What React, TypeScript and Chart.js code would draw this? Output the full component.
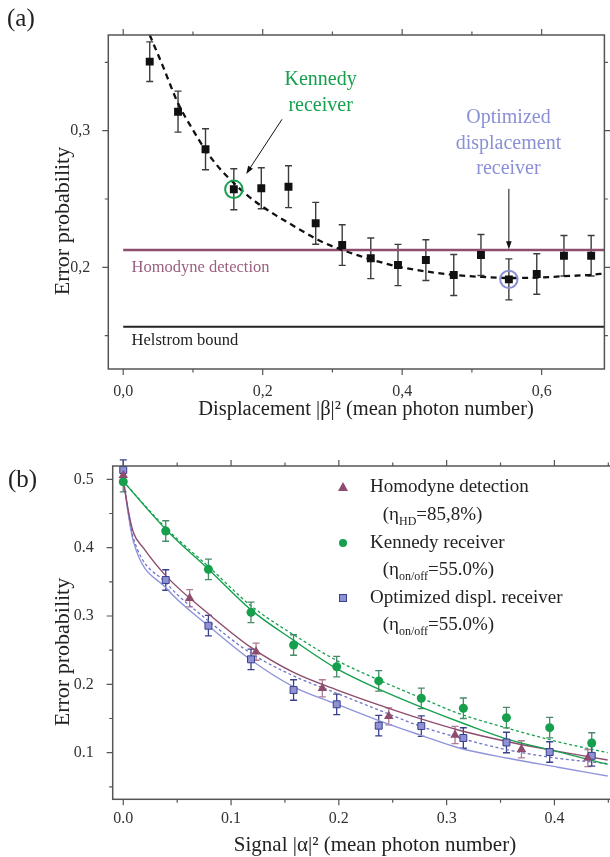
import React, { useEffect, useRef } from "react";
import { Chart, registerables } from "chart.js";

Chart.register(...registerables);

const SERIF = "'Liberation Serif', 'DejaVu Serif', serif";

// ---------------- Panel (a) data ----------------
const A_BETA2 = [0.038, 0.0786, 0.118, 0.1586, 0.198, 0.237, 0.276, 0.314, 0.355, 0.394, 0.434, 0.474, 0.513, 0.553, 0.593, 0.632, 0.671];
const A_PERR = [0.3505, 0.3139, 0.2864, 0.2571, 0.2579, 0.259, 0.2322, 0.2163, 0.2066, 0.2017, 0.2053, 0.1944, 0.209, 0.1912, 0.1951, 0.2085, 0.2085];
const A_ERR = [0.0145, 0.015, 0.015, 0.015, 0.015, 0.0153, 0.0153, 0.0149, 0.0149, 0.0151, 0.0149, 0.015, 0.015, 0.015, 0.0148, 0.0148, 0.0148];
const A_FIT_BETA2 = [0.038, 0.057, 0.0786, 0.1, 0.119, 0.138, 0.157, 0.176, 0.198, 0.219, 0.238, 0.252, 0.276, 0.29, 0.314, 0.338, 0.355, 0.394, 0.434, 0.474, 0.513, 0.553, 0.593, 0.632, 0.671, 0.69];
const A_FIT_PERR = [0.37, 0.347, 0.32, 0.3005, 0.285, 0.2725, 0.2625, 0.2535, 0.245, 0.238, 0.2322, 0.228, 0.221, 0.2175, 0.2127, 0.2085, 0.2058, 0.2005, 0.197, 0.1945, 0.193, 0.1922, 0.1924, 0.1935, 0.1945, 0.1955];
const A_HOMODYNE_LEVEL = 0.2127;
const A_HELSTROM_LEVEL = 0.1565;
const A_LEVEL_RANGE = [0, 0.69];
const A_X_MAJOR = [0, 0.2, 0.4, 0.6];
const A_X_MINOR = [0.1, 0.3, 0.5];
const A_Y_MAJOR = [0.2, 0.3];
const A_Y_MINOR = [0.15, 0.25, 0.35];

// ---------------- Panel (b) data ----------------
const HD_ALPHA2 = [0, 0.0616, 0.1232, 0.1847, 0.2463, 0.3078, 0.3694, 0.431];
const HD_PERR = [0.506, 0.326, 0.2478, 0.1942, 0.1532, 0.1259, 0.105, 0.0922];
const HD_ERR = [0.0125, 0.0125, 0.0125, 0.0125, 0.0125, 0.0125, 0.0125, 0.0125];

const KEN_ALPHA2 = [0, 0.0394, 0.079, 0.1185, 0.158, 0.198, 0.237, 0.2765, 0.3155, 0.3555, 0.3956, 0.4346];
const KEN_PERR = [0.4965, 0.4244, 0.3683, 0.3054, 0.2576, 0.2258, 0.205, 0.1796, 0.165, 0.1512, 0.1366, 0.1142];
const KEN_ERR = [0.015, 0.015, 0.015, 0.015, 0.015, 0.015, 0.015, 0.015, 0.015, 0.015, 0.015, 0.015];

const OPT_ALPHA2 = [0, 0.0394, 0.079, 0.1185, 0.158, 0.198, 0.237, 0.2765, 0.3155, 0.3555, 0.3956, 0.4346];
const OPT_PERR = [0.5136, 0.3527, 0.2858, 0.2366, 0.1917, 0.1708, 0.1395, 0.139, 0.1215, 0.1149, 0.101, 0.0954];
const OPT_ERR = [0.015, 0.015, 0.015, 0.015, 0.015, 0.015, 0.015, 0.015, 0.015, 0.015, 0.015, 0.015];

const KEN_FIT_X = [0, 0.04, 0.08, 0.1185, 0.1585, 0.198, 0.237, 0.277, 0.317, 0.357, 0.403, 0.4494];
const KEN_FIT_Y = [0.497, 0.426, 0.367, 0.309, 0.264, 0.223, 0.193, 0.1664, 0.142, 0.1196, 0.1015, 0.083];
const KEN_FIT2_X = [0, 0.04, 0.08, 0.1185, 0.1632, 0.198, 0.237, 0.277, 0.3108, 0.357, 0.4033, 0.4494];
const KEN_FIT2_Y = [0.497, 0.428, 0.371, 0.315, 0.2674, 0.235, 0.2064, 0.1796, 0.1576, 0.1357, 0.116, 0.1];
const HD_FIT_X = [0, 0.0046, 0.0092, 0.0185, 0.04, 0.08, 0.1185, 0.1585, 0.198, 0.237, 0.277, 0.3108, 0.357, 0.4033, 0.4494];
const HD_FIT_Y = [0.5, 0.455, 0.423, 0.4, 0.358, 0.302, 0.254, 0.217, 0.192, 0.17, 0.149, 0.1332, 0.116, 0.102, 0.0893];
const OPT_FIT_X = [0, 0.0046, 0.0092, 0.04, 0.08, 0.1185, 0.1585, 0.198, 0.237, 0.277, 0.3108, 0.357, 0.4033, 0.4494];
const OPT_FIT_Y = [0.5, 0.45, 0.41, 0.3405, 0.2844, 0.2356, 0.196, 0.171, 0.147, 0.125, 0.1073, 0.0918, 0.0787, 0.0659];
const OPT_FIT2_Y = [0.5, 0.452, 0.415, 0.348, 0.2917, 0.2454, 0.212, 0.187, 0.1625, 0.138, 0.122, 0.104, 0.0918, 0.084];

const B_X_MAJOR = [0, 0.1, 0.2, 0.3, 0.4];
const B_X_MINOR = [0.05, 0.15, 0.25, 0.35, 0.45];
const B_Y_MAJOR = [0.1, 0.2, 0.3, 0.4, 0.5];
const B_Y_MINOR = [0.05, 0.15, 0.25, 0.35, 0.45];

// ---------------- colours ----------------
const C_GREEN = "#16a04e";
const C_GREEN_ERR = "#4a8a6a";
const C_MAUVE = "#8e4c6e";
const C_MAUVE_ERR = "#b07a93";
const C_BLUE_FILL = "#8e92d4";
const C_BLUE_EDGE = "#3a3f8c";
const C_BLUE_LINE = "#8f95da";
const C_BLUE_DASH = "#6f74c6";
const C_LAVENDER = "#8a8fd6";
const C_FRAME = "#555";

const pts = (xs: number[], ys: number[]) => xs.map((x, i) => ({ x, y: ys[i] }));

const errorBarPlugin = {
  id: "errbars",
  beforeDatasetsDraw(chart: any) {
    const ctx = chart.ctx;
    const xs = chart.scales.x;
    const ys = chart.scales.y;
    chart.data.datasets.forEach((ds: any) => {
      if (!ds.errors) return;
      const cap = ds.capHalf || 3.5;
      ctx.save();
      ctx.strokeStyle = ds.errorColor;
      ctx.lineWidth = ds.errorWidth || 1.3;
      ds.data.forEach((p: any, i: number) => {
        const e = ds.errors[i];
        const x = xs.getPixelForValue(p.x);
        const y1 = ys.getPixelForValue(p.y + e);
        const y2 = ys.getPixelForValue(p.y - e);
        ctx.beginPath();
        ctx.moveTo(x, y1);
        ctx.lineTo(x, y2);
        ctx.moveTo(x - cap, y1);
        ctx.lineTo(x + cap, y1);
        ctx.moveTo(x - cap, y2);
        ctx.lineTo(x + cap, y2);
        ctx.stroke();
      });
      ctx.restore();
    });
  },
};

function framePlugin(xMajor: number[], xMinor: number[], yMajor: number[], yMinor: number[]) {
  return {
    id: "frame",
    afterDraw(chart: any) {
      const ctx = chart.ctx;
      const ca = chart.chartArea;
      const xs = chart.scales.x;
      const ys = chart.scales.y;
      ctx.save();
      ctx.strokeStyle = C_FRAME;
      ctx.lineWidth = 1.5;
      ctx.strokeRect(ca.left, ca.top, ca.right - ca.left, ca.bottom - ca.top);
      ctx.lineWidth = 1.2;
      const tickX = (v: number, len: number) => {
        const x = xs.getPixelForValue(v);
        ctx.beginPath();
        ctx.moveTo(x, ca.bottom);
        ctx.lineTo(x, ca.bottom + len);
        ctx.moveTo(x, ca.top);
        ctx.lineTo(x, ca.top - len);
        ctx.stroke();
      };
      const tickY = (v: number, len: number) => {
        const y = ys.getPixelForValue(v);
        ctx.beginPath();
        ctx.moveTo(ca.left, y);
        ctx.lineTo(ca.left - len, y);
        ctx.moveTo(ca.right, y);
        ctx.lineTo(ca.right + len, y);
        ctx.stroke();
      };
      xMajor.forEach((v) => tickX(v, 6));
      xMinor.forEach((v) => tickX(v, 3.5));
      yMajor.forEach((v) => tickY(v, 6));
      yMinor.forEach((v) => tickY(v, 3.5));
      ctx.restore();
    },
  };
}

function arrow(ctx: CanvasRenderingContext2D, x1: number, y1: number, x2: number, y2: number) {
  const ang = Math.atan2(y2 - y1, x2 - x1);
  const len = 8;
  const hw = 2.8;
  ctx.beginPath();
  ctx.moveTo(x1, y1);
  ctx.lineTo(x2 - Math.cos(ang) * len * 0.8, y2 - Math.sin(ang) * len * 0.8);
  ctx.stroke();
  ctx.beginPath();
  ctx.moveTo(x2, y2);
  ctx.lineTo(x2 - Math.cos(ang) * len - Math.sin(ang) * hw, y2 - Math.sin(ang) * len + Math.cos(ang) * hw);
  ctx.lineTo(x2 - Math.cos(ang) * len + Math.sin(ang) * hw, y2 - Math.sin(ang) * len - Math.cos(ang) * hw);
  ctx.closePath();
  ctx.fill();
}

const panelAOverlay = {
  id: "panelAOverlay",
  afterDraw(chart: any) {
    const ctx = chart.ctx;
    const xs = chart.scales.x;
    const ys = chart.scales.y;
    const X = (v: number) => xs.getPixelForValue(v);
    const Y = (v: number) => ys.getPixelForValue(v);
    ctx.save();
    ctx.textBaseline = "middle";
    // panel letter
    ctx.fillStyle = "#222";
    ctx.font = `25px ${SERIF}`;
    ctx.textAlign = "left";
    ctx.fillText("(a)", 7, 19);
    // axis titles
    ctx.font = `20.5px ${SERIF}`;
    ctx.textAlign = "center";
    ctx.fillText("Displacement |β|² (mean photon number)", 366, 410);
    ctx.font = `22px ${SERIF}`;
    ctx.save();
    ctx.translate(63, 221);
    ctx.rotate(-Math.PI / 2);
    ctx.fillText("Error probability", 0, 0);
    ctx.restore();
    // level labels
    ctx.font = `16.5px ${SERIF}`;
    ctx.textAlign = "left";
    ctx.fillStyle = "#9b5f80";
    ctx.fillText("Homodyne detection", X(0.012), Y(0.1996));
    ctx.fillStyle = "#222";
    ctx.fillText("Helstrom bound", X(0.012), Y(0.1462));
    // Kennedy label + circle
    ctx.font = `20px ${SERIF}`;
    ctx.textAlign = "center";
    ctx.fillStyle = C_GREEN;
    ctx.fillText("Kennedy", X(0.2831), Y(0.3371));
    ctx.fillText("receiver", X(0.2831), Y(0.3181));
    ctx.strokeStyle = C_GREEN;
    ctx.lineWidth = 2;
    ctx.beginPath();
    ctx.arc(X(A_BETA2[3]), Y(A_PERR[3]), 8.7, 0, Math.PI * 2);
    ctx.stroke();
    // Optimized label + circle
    ctx.fillStyle = C_LAVENDER;
    ctx.fillText("Optimized", X(0.5524), Y(0.3093));
    ctx.fillText("displacement", X(0.5524), Y(0.2903));
    ctx.fillText("receiver", X(0.5524), Y(0.272));
    ctx.strokeStyle = C_LAVENDER;
    ctx.beginPath();
    ctx.arc(X(A_BETA2[13]), Y(A_PERR[13]), 8.7, 0, Math.PI * 2);
    ctx.stroke();
    // arrows
    ctx.strokeStyle = "#111";
    ctx.fillStyle = "#111";
    ctx.lineWidth = 1;
    arrow(ctx, X(0.2277), Y(0.3083), X(0.1763), Y(0.2683));
    arrow(ctx, X(A_BETA2[13]), Y(0.2574), X(A_BETA2[13]), Y(A_HOMODYNE_LEVEL + 0.0005));
    ctx.restore();
  },
};

function drawMarker(ctx: CanvasRenderingContext2D, kind: string, x: number, y: number) {
  ctx.save();
  if (kind === "tri") {
    ctx.fillStyle = C_MAUVE;
    ctx.beginPath();
    ctx.moveTo(x, y - 5);
    ctx.lineTo(x + 5, y + 4);
    ctx.lineTo(x - 5, y + 4);
    ctx.closePath();
    ctx.fill();
  } else if (kind === "circ") {
    ctx.fillStyle = C_GREEN;
    ctx.beginPath();
    ctx.arc(x, y, 4, 0, Math.PI * 2);
    ctx.fill();
  } else {
    ctx.fillStyle = C_BLUE_FILL;
    ctx.strokeStyle = C_BLUE_EDGE;
    ctx.lineWidth = 1;
    ctx.fillRect(x - 3.5, y - 3.5, 7, 7);
    ctx.strokeRect(x - 3.5, y - 3.5, 7, 7);
  }
  ctx.restore();
}

function subText(ctx: CanvasRenderingContext2D, x: number, y: number, sub: string, tail: string) {
  ctx.font = `19px ${SERIF}`;
  ctx.fillText("(η", x, y);
  let w = ctx.measureText("(η").width;
  ctx.font = `12px ${SERIF}`;
  ctx.fillText(sub, x + w, y + 7);
  w += ctx.measureText(sub).width;
  ctx.font = `19px ${SERIF}`;
  ctx.fillText(tail, x + w, y);
}

const panelBOverlay = {
  id: "panelBOverlay",
  afterDraw(chart: any) {
    const ctx = chart.ctx;
    ctx.save();
    ctx.textBaseline = "middle";
    ctx.fillStyle = "#222";
    ctx.font = `25px ${SERIF}`;
    ctx.textAlign = "left";
    ctx.fillText("(b)", 8, 50);
    ctx.font = `21px ${SERIF}`;
    ctx.textAlign = "center";
    ctx.fillText("Signal |α|² (mean photon number)", 375, 415);
    ctx.font = `22px ${SERIF}`;
    ctx.save();
    ctx.translate(63, 222);
    ctx.rotate(-Math.PI / 2);
    ctx.fillText("Error probability", 0, 0);
    ctx.restore();
    // legend
    ctx.textAlign = "left";
    ctx.fillStyle = "#222";
    const mx = 343;
    const tx = 370;
    const sx = 382.7;
    drawMarker(ctx, "tri", mx, 57);
    ctx.font = `19px ${SERIF}`;
    ctx.fillText("Homodyne detection", tx, 57);
    subText(ctx, sx, 85, "HD", "=85,8%)");
    drawMarker(ctx, "circ", mx, 113);
    ctx.font = `19px ${SERIF}`;
    ctx.fillText("Kennedy receiver", tx, 113);
    subText(ctx, sx, 140, "on/off", "=55.0%)");
    drawMarker(ctx, "sq", mx, 168);
    ctx.font = `19px ${SERIF}`;
    ctx.fillText("Optimized displ. receiver", tx, 168);
    subText(ctx, sx, 195, "on/off", "=55.0%)");
    ctx.restore();
  },
};

const tickFont = { family: SERIF, size: 16 };

function configA(): any {
  return {
    type: "scatter",
    data: {
      datasets: [
        {
          label: "Measured",
          data: pts(A_BETA2, A_PERR),
          pointStyle: "rect",
          pointRadius: 5.6,
          pointBackgroundColor: "#111",
          pointBorderColor: "#111",
          pointBorderWidth: 0,
          showLine: false,
          errors: A_ERR,
          errorColor: "#3c3c3c",
          errorWidth: 1.4,
          capHalf: 3.5,
        },
        {
          label: "Theory",
          data: pts(A_FIT_BETA2, A_FIT_PERR),
          showLine: true,
          pointRadius: 0,
          borderColor: "#111",
          borderWidth: 2.3,
          borderDash: [6, 4.5],
          cubicInterpolationMode: "monotone",
        },
        {
          label: "Homodyne detection",
          data: A_LEVEL_RANGE.map((x) => ({ x, y: A_HOMODYNE_LEVEL })),
          showLine: true,
          pointRadius: 0,
          borderColor: C_MAUVE,
          borderWidth: 2.5,
        },
        {
          label: "Helstrom bound",
          data: A_LEVEL_RANGE.map((x) => ({ x, y: A_HELSTROM_LEVEL })),
          showLine: true,
          pointRadius: 0,
          borderColor: "#222",
          borderWidth: 2.2,
        },
      ],
    },
    options: {
      responsive: false,
      maintainAspectRatio: false,
      animation: false,
      events: [],
      layout: { padding: { left: 0, top: 35, right: 3.3, bottom: 0 } },
      plugins: { legend: { display: false }, tooltip: { enabled: false } },
      scales: {
        x: {
          type: "linear",
          position: "bottom",
          min: -0.0214,
          max: 0.69,
          grid: { display: false },
          border: { display: false },
          afterBuildTicks: (s: any) => {
            s.ticks = A_X_MAJOR.map((v) => ({ value: v }));
          },
          afterFit: (s: any) => {
            s.height = 51;
          },
          ticks: {
            font: tickFont,
            color: "#333",
            padding: 5,
            maxRotation: 0,
            callback: (v: number) => v.toFixed(1).replace(".", ","),
          },
        },
        y: {
          type: "linear",
          min: 0.1256,
          max: 0.37,
          grid: { display: false },
          border: { display: false },
          afterBuildTicks: (s: any) => {
            s.ticks = A_Y_MAJOR.map((v) => ({ value: v }));
          },
          afterFit: (s: any) => {
            s.width = 108.3;
          },
          ticks: {
            font: tickFont,
            color: "#333",
            padding: 10,
            callback: (v: number) => v.toFixed(1).replace(".", ","),
          },
        },
      },
    },
    plugins: [errorBarPlugin, framePlugin(A_X_MAJOR, A_X_MINOR, A_Y_MAJOR, A_Y_MINOR), panelAOverlay],
  };
}

function configB(): any {
  return {
    type: "scatter",
    data: {
      datasets: [
        {
          label: "Homodyne detection",
          data: pts(HD_ALPHA2, HD_PERR),
          pointStyle: "triangle",
          pointRadius: 5.5,
          pointBackgroundColor: C_MAUVE,
          pointBorderColor: C_MAUVE,
          pointBorderWidth: 0,
          showLine: false,
          errors: HD_ERR,
          errorColor: C_MAUVE_ERR,
          errorWidth: 1.3,
          capHalf: 3.5,
        },
        {
          label: "Kennedy receiver",
          data: pts(KEN_ALPHA2, KEN_PERR),
          pointStyle: "circle",
          pointRadius: 4.5,
          pointBackgroundColor: C_GREEN,
          pointBorderColor: C_GREEN,
          pointBorderWidth: 0,
          showLine: false,
          errors: KEN_ERR,
          errorColor: C_GREEN_ERR,
          errorWidth: 1.3,
          capHalf: 3.5,
        },
        {
          label: "Optimized displ. receiver",
          data: pts(OPT_ALPHA2, OPT_PERR),
          pointStyle: "rect",
          pointRadius: 4.9,
          pointBackgroundColor: C_BLUE_FILL,
          pointBorderColor: C_BLUE_EDGE,
          pointBorderWidth: 1,
          showLine: false,
          errors: OPT_ERR,
          errorColor: C_BLUE_EDGE,
          errorWidth: 1.3,
          capHalf: 3.5,
        },
        {
          label: "Kennedy theory",
          data: pts(KEN_FIT_X, KEN_FIT_Y),
          showLine: true,
          pointRadius: 0,
          borderColor: C_GREEN,
          borderWidth: 1.4,
          cubicInterpolationMode: "monotone",
        },
        {
          label: "Kennedy theory (dark counts)",
          data: pts(KEN_FIT2_X, KEN_FIT2_Y),
          showLine: true,
          pointRadius: 0,
          borderColor: C_GREEN,
          borderWidth: 1.3,
          borderDash: [3, 2.5],
          cubicInterpolationMode: "monotone",
        },
        {
          label: "Homodyne theory",
          data: pts(HD_FIT_X, HD_FIT_Y),
          showLine: true,
          pointRadius: 0,
          borderColor: C_MAUVE,
          borderWidth: 1.4,
          cubicInterpolationMode: "monotone",
        },
        {
          label: "Optimized theory (dashed)",
          data: pts(OPT_FIT_X, OPT_FIT2_Y),
          showLine: true,
          pointRadius: 0,
          borderColor: C_BLUE_DASH,
          borderWidth: 1.3,
          borderDash: [3, 2.5],
          cubicInterpolationMode: "monotone",
        },
        {
          label: "Optimized theory",
          data: pts(OPT_FIT_X, OPT_FIT_Y),
          showLine: true,
          pointRadius: 0,
          borderColor: C_BLUE_LINE,
          borderWidth: 1.4,
          cubicInterpolationMode: "monotone",
        },
      ],
    },
    options: {
      responsive: false,
      maintainAspectRatio: false,
      animation: false,
      events: [],
      layout: { padding: { left: 0, top: 36, right: 3.5, bottom: 0 } },
      plugins: { legend: { display: false }, tooltip: { enabled: false } },
      scales: {
        x: {
          type: "linear",
          position: "bottom",
          min: -0.0098,
          max: 0.46,
          grid: { display: false },
          border: { display: false },
          afterBuildTicks: (s: any) => {
            s.ticks = B_X_MAJOR.map((v) => ({ value: v }));
          },
          afterFit: (s: any) => {
            s.height = 57.7;
          },
          ticks: {
            font: tickFont,
            color: "#333",
            padding: 2,
            maxRotation: 0,
            callback: (v: number) => v.toFixed(1),
          },
        },
        y: {
          type: "linear",
          min: 0.0318,
          max: 0.5195,
          grid: { display: false },
          border: { display: false },
          afterBuildTicks: (s: any) => {
            s.ticks = B_Y_MAJOR.map((v) => ({ value: v }));
          },
          afterFit: (s: any) => {
            s.width = 112.7;
          },
          ticks: {
            font: tickFont,
            color: "#333",
            padding: 11,
            callback: (v: number) => v.toFixed(1),
          },
        },
      },
    },
    plugins: [errorBarPlugin, framePlugin(B_X_MAJOR, B_X_MINOR, B_Y_MAJOR, B_Y_MINOR), panelBOverlay],
  };
}

function ChartCanvas({ make, width, height, top }: { make: () => any; width: number; height: number; top: number }) {
  const ref = useRef<HTMLCanvasElement | null>(null);
  useEffect(() => {
    if (!ref.current) return;
    const chart = new Chart(ref.current, make());
    return () => chart.destroy();
  }, [make]);
  return (
    <canvas
      ref={ref}
      width={width}
      height={height}
      style={{ position: "absolute", left: 0, top, width, height, display: "block" }}
    />
  );
}

export default function App() {
  return (
    <div
      style={{
        position: "absolute",
        left: 0,
        top: 0,
        width: 610,
        height: 857,
        overflow: "hidden",
        background: "#fff",
      }}
    >
      <ChartCanvas make={configA} width={610} height={420} top={0} />
      <ChartCanvas make={configB} width={625} height={427} top={430} />
    </div>
  );
}
